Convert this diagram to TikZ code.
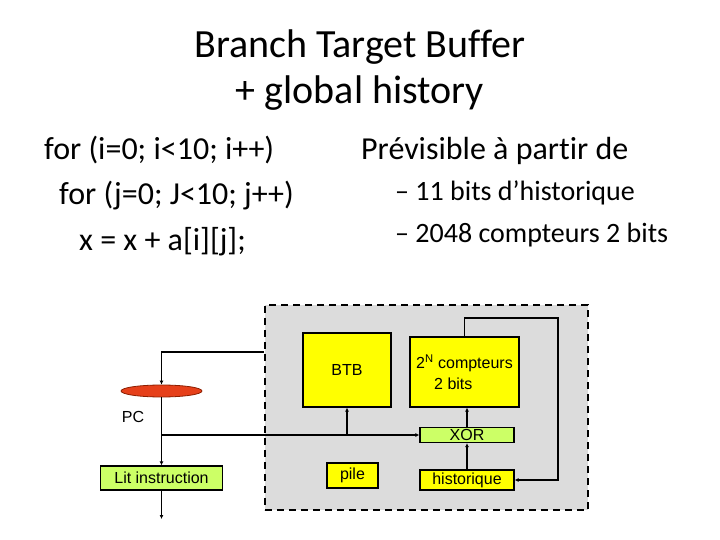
\documentclass[tikz,border=0pt]{standalone}
\usepackage{fontspec}
\setmainfont[Ligatures=NoCommon]{Carlito}
\newfontfamily\diagfont{Liberation Sans}
\usetikzlibrary{arrows.meta,shapes.geometric}

\definecolor{unitgray}{RGB}{220,220,220}
\definecolor{boxyellow}{RGB}{255,255,0}
\definecolor{boxgreen}{RGB}{204,255,102}
\definecolor{pcred}{RGB}{230,64,26}
\definecolor{pcdark}{RGB}{140,30,0}

\begin{document}
\begin{tikzpicture}[
  x=1pt, y=-1pt,
  every node/.style={inner sep=0pt},
  title/.style={anchor=base, font=\fontsize{40}{48}\selectfont},
  slide/.style={anchor=base west, font=\fontsize{32}{38}\selectfont},
  sub/.style={anchor=base west, font=\fontsize{28}{34}\selectfont},
  box/.style={draw, line width=1.2pt, font=\diagfont\fontsize{16}{20}\selectfont},
  unitbox/.style={draw, fill=unitgray, line width=1.8pt, dash pattern=on 7pt off 5pt,
    anchor=north west},
  wire/.style={draw, line width=1.6pt},
  arrow/.style={wire, -{Latex[length=4pt, width=4pt]}}]

  \useasboundingbox (0,0) rectangle (720,540);

  % ---- slide text ---------------------------------------------------------
  \node[title] (title1) at (360,58)  {Branch Target Buffer};
  \node[title] (title2) at (360,104) {+ global history};

  \node[slide] (loop1) at (44,160) {for (i=0; i<10; i++)};
  \node[slide] (loop2) at (59,205) {for (j=0; J<10; j++)};
  \node[slide] (loop3) at (79,250) {x = x + a[i][j];};

  \node[slide] (pred)  at (361,160) {Prévisible à partir de};
  \node[sub]   (pred1) at (395,201) {– 11 bits d’historique};
  \node[sub]   (pred2) at (395,242) {– 2048 compteurs 2 bits};

  % ---- predictor unit -----------------------------------------------------
  \node[unitbox, minimum width=323, minimum height=205] (unit) at (264,304) {};

  \node[box, fill=boxyellow, minimum width=88, minimum height=74] (btb) at (347,370) {BTB};
  \node[box, fill=boxyellow, minimum width=109, minimum height=70, align=left,
    font=\diagfont\fontsize{16}{21}\selectfont] (cnt) at (464.5,372)
    {2\textsuperscript{N} compteurs\\\hspace{18pt}2 bits};
  \node[box, fill=boxgreen, minimum width=94, minimum height=15] (xor) at (467,435) {XOR};
  \node[box, fill=boxyellow, minimum width=94, minimum height=20] (hist) at (467,480) {historique};
  \node[box, fill=boxyellow, minimum width=51, minimum height=25] (pile) at (352.5,475.5) {pile};

  % ---- fetch path ---------------------------------------------------------
  \node[ellipse, draw=pcdark, fill=pcred, line width=0.8pt,
    minimum width=81, minimum height=12] (pc) at (161.5,391) {};
  \node[font=\diagfont\fontsize{16}{20}\selectfont] (pclabel) at (133,417) {PC};
  \node[box, fill=boxgreen, minimum width=122, minimum height=24] (lit) at (161.5,478) {Lit instruction};

  \coordinate (btbout)  at (264,352);
  \coordinate (tap)     at (pc.south |- xor.west);
  \coordinate (fetched) at (161.5,519);
  \coordinate (loopback) at (558,318);

  % ---- arrows -------------------------------------------------------------
  \draw[arrow] (btbout) -| (pc.north);
  \draw[arrow] (pc.south) -- (pc.south |- lit.north);
  \draw[arrow] (tap) -- (xor.west);
  \draw[arrow] (tap -| btb.south) -- (btb.south);
  \draw[arrow] (lit.south -| pc.south) -- (fetched);
  \draw[arrow] (hist.north) -- (xor.south);
  \draw[arrow] (xor.north) -- (xor.north |- cnt.south);
  \draw[arrow] (cnt.north) |- (loopback) |- (hist.east);
\end{tikzpicture}
\end{document}
